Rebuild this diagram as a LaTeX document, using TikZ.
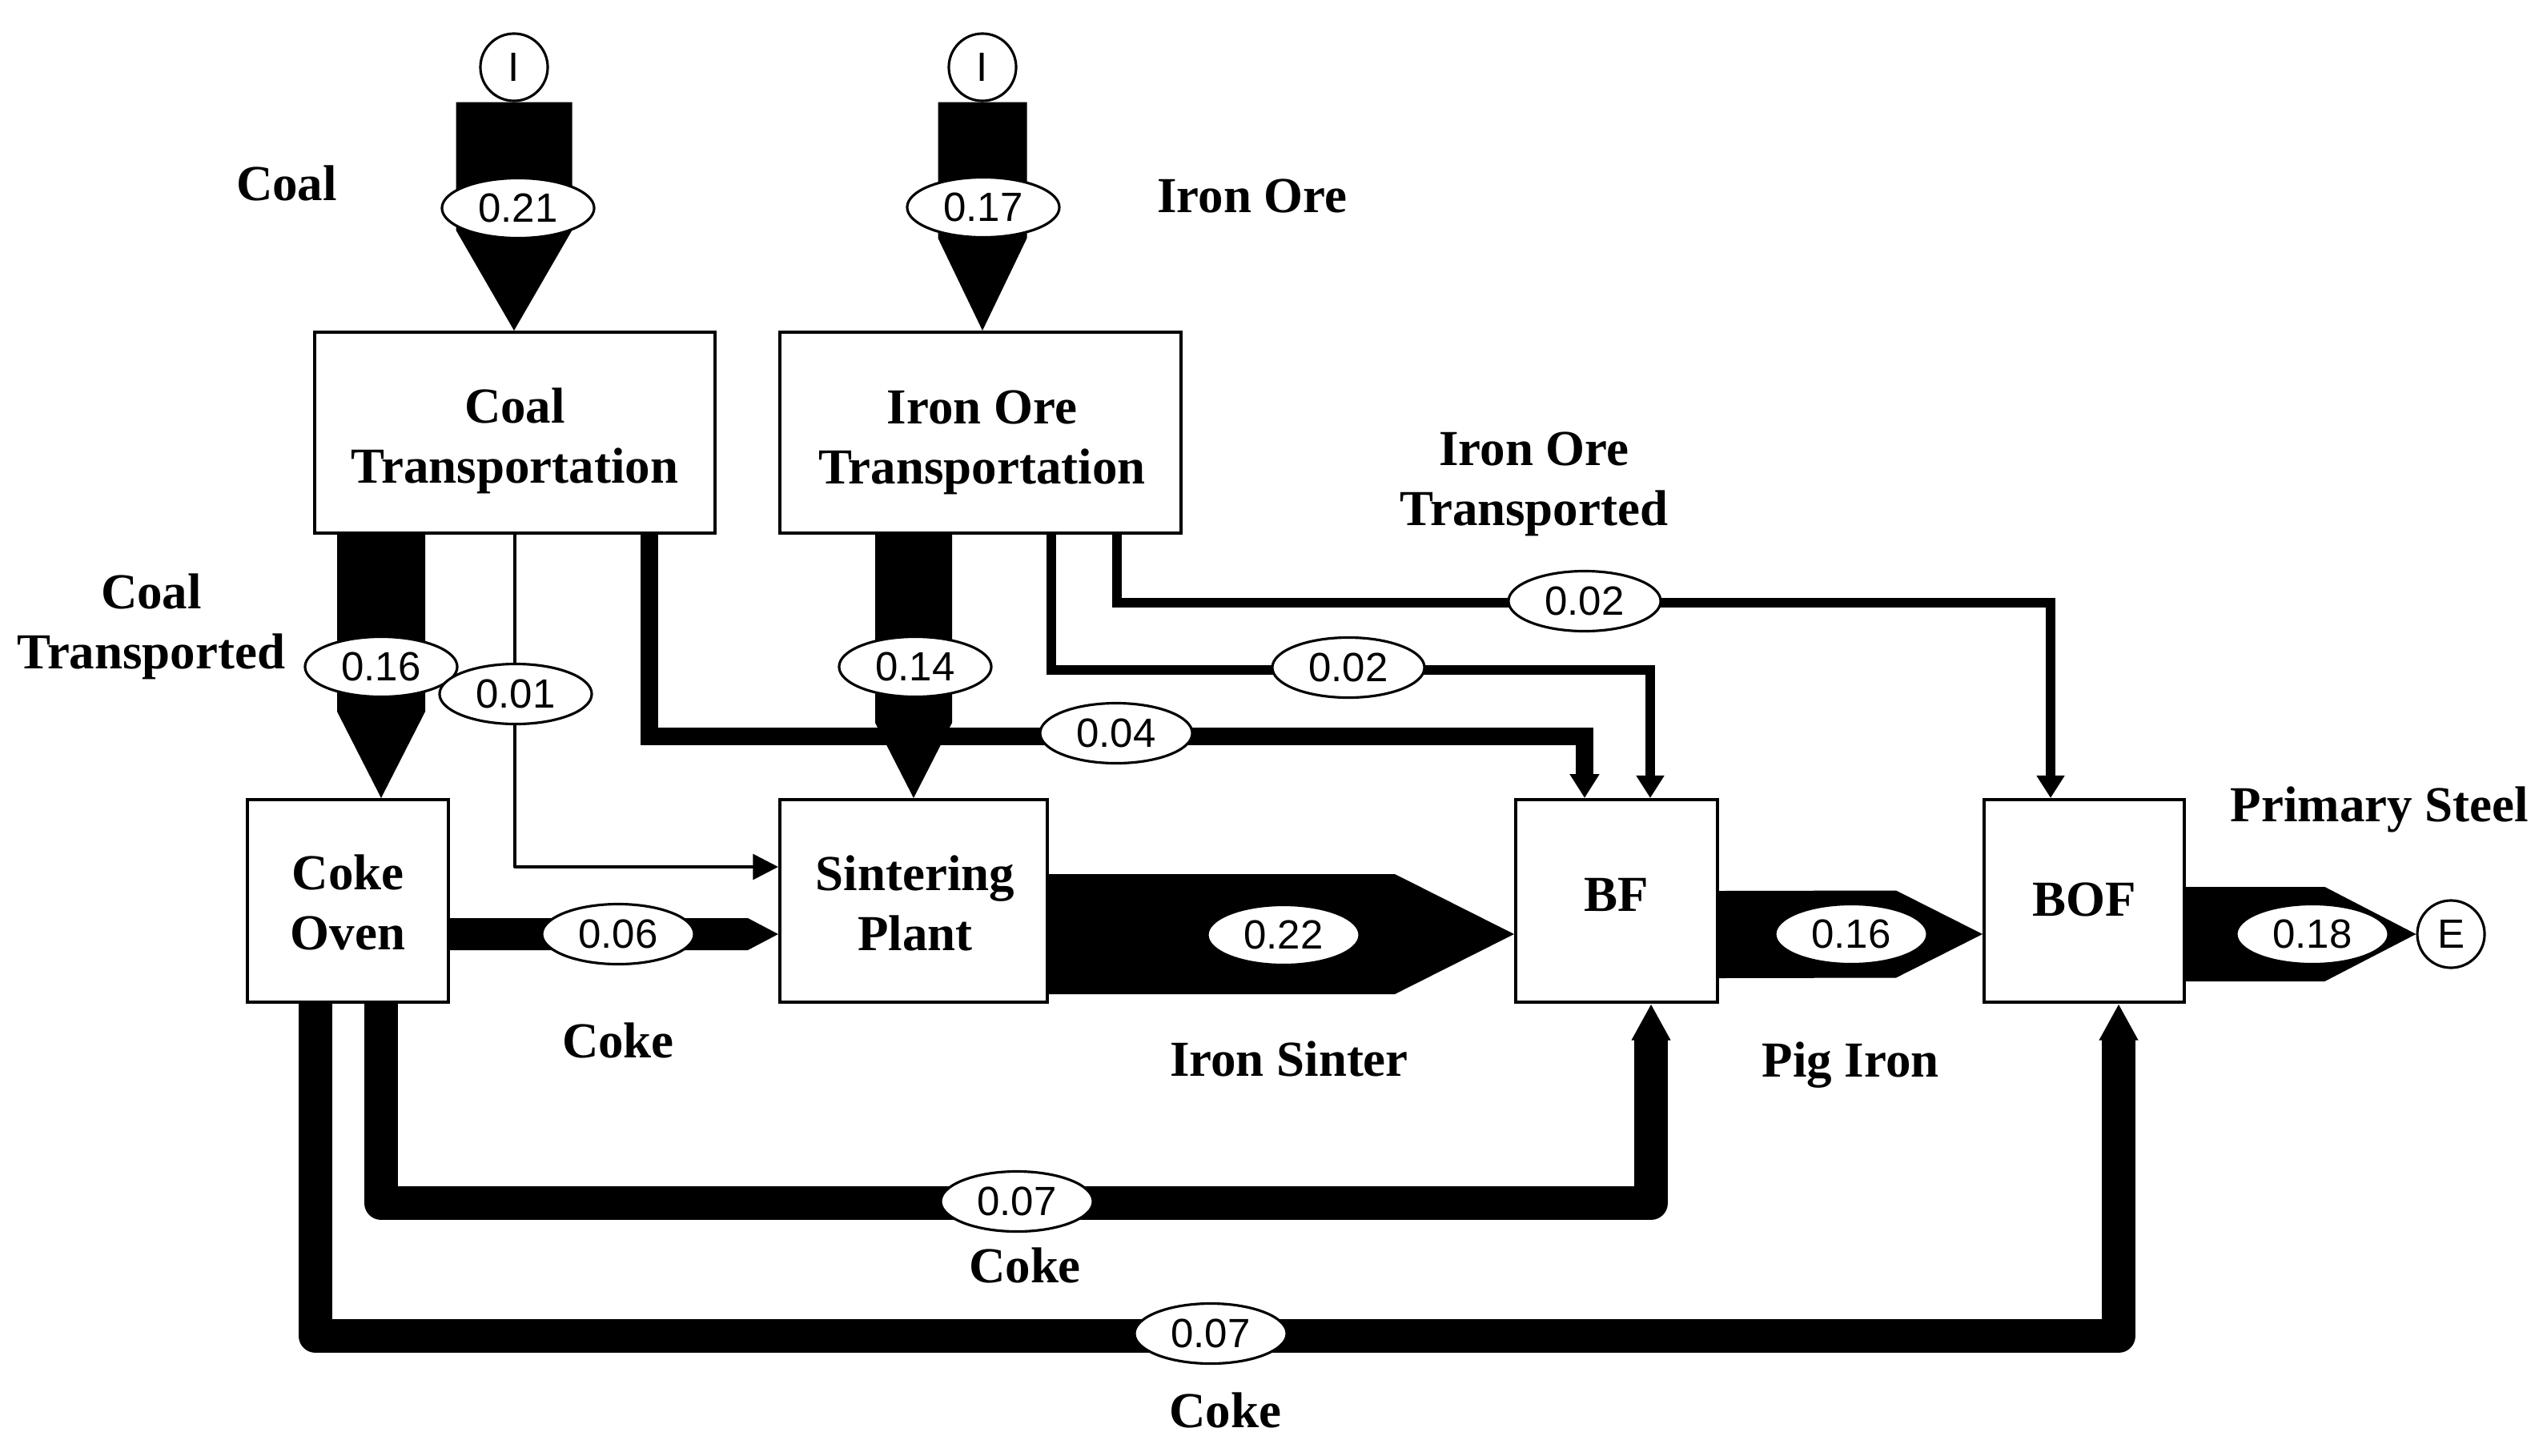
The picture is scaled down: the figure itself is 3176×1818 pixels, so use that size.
\documentclass[tikz,border=0pt]{standalone}
\usepackage{fontspec}
\setmainfont{Liberation Serif}
\setsansfont{Liberation Sans}
\usetikzlibrary{arrows.meta,shapes.geometric,calc}
\newcommand\dlabfont{\bfseries\fontsize{17.9}{21.3}\selectfont}
\newcommand\dnumfont{\sffamily\fontsize{14.5}{17}\selectfont}
\begin{document}
\begin{tikzpicture}[x=0.01cm,y=-0.01cm,
  box/.style={draw, line width=1.1pt, fill=white, inner sep=0pt},
  lab/.style={font=\dlabfont, align=center, inner sep=0pt},
  val/.style={ellipse, draw, line width=0.9pt, fill=white, minimum width=1.9cm, minimum height=0.75cm, inner sep=0pt, font=\dnumfont},
  term/.style={circle, draw, line width=0.9pt, fill=white, minimum size=0.84cm, inner sep=0pt, font=\dnumfont},
  f01/.style={line width=1.1pt, line join=round, -{Triangle[length=9pt,width=9pt]}},
  f02/.style={line width=3.4pt, -{Triangle[length=8pt,width=9.5pt]}},
  f04/.style={line width=6.5pt, -{Triangle[length=8.5pt,width=10pt]}},
  f07/.style={line width=12pt, line join=round, -{Triangle[length=13pt,width=13pt]}},
]
\useasboundingbox (0,0) rectangle (3176,1818);

% process boxes
\node[box, minimum width=5cm, minimum height=2.51cm] (coalT) at (643,540.5) {};
\node[box, minimum width=5.01cm, minimum height=2.51cm] (ironT) at (1224.5,540.5) {};
\node[box, minimum width=2.51cm, minimum height=2.53cm] (coke) at (434.5,1125.5) {};
\node[box, minimum width=3.34cm, minimum height=2.53cm] (sinter) at (1141,1125.5) {};
\node[box, minimum width=2.52cm, minimum height=2.53cm] (bf) at (2019,1125.5) {};
\node[box, minimum width=2.5cm, minimum height=2.53cm] (bof) at (2603,1125.5) {};
\node[lab] (tCoalT) at ($(coalT)+(0,10)$) {Coal\\Transportation};
\node[lab] (tIronT) at ($(ironT)+(2,12)$) {Iron Ore\\Transportation};
\node[lab] (tCoke) at ($(coke)+(0,2)$) {Coke\\Oven};
\node[lab] (tSinter) at ($(sinter)+(2,3)$) {Sintering\\Plant};
\node[lab] (tBF) at ($(bf)+(0,-8)$) {BF};
\node[lab] (tBOF) at ($(bof)+(0,-2)$) {BOF};

% terminals
\node[term] (inC) at (642,84) {I};
\node[term] (inI) at (1227,84) {I};
\node[term] (outE) at (3061,1167) {E};

% inputs
\fill ($(inC.south)+(-72.5,0)$) -- ++(145,0) -- ++(0,160) -- (inC |- coalT.north) -- ($(inC.south)+(-72.5,160)$) -- cycle;
\fill ($(inI.south)+(-55.5,0)$) -- ++(111,0) -- ++(0,170) -- (inI |- ironT.north) -- ($(inI.south)+(-55.5,170)$) -- cycle;

% coal transported to coke oven
\coordinate (ctTip) at ($(coke.north)+(41.5,0)$);
\fill ($(ctTip |- coalT.south)+(-55,0)$) -- ++(110,0) -- ($(ctTip)+(55,-108)$) -- (ctTip) -- ($(ctTip)+(-55,-108)$) -- cycle;

% iron ore transported to sintering plant
\fill ($(sinter.north |- ironT.south)+(-48,0)$) -- ++(96,0) -- ($(sinter.north)+(48,-94)$) -- (sinter.north) -- ($(sinter.north)+(-48,-94)$) -- cycle;

% 0.01 coal to sintering
\coordinate (s01) at ($(sinter.west)+(0,-42.5)$);
\draw[f01] (coalT.south) |- (s01);

% 0.04 coal to BF
\coordinate (bf04) at ($(bf.north)+(-40,0)$);
\draw[f04] ($(coalT.south)+(168,0)$) -- ++(0,252) -| (bf04);

% 0.02 iron ore to BF and BOF
\coordinate (bf02) at ($(bf.north)+(42,0)$);
\draw[f02] ($(ironT.south)+(88.5,0)$) -- ++(0,169) -| (bf02);
\coordinate (bof02) at ($(bof.north)+(-42,0)$);
\draw[f02] ($(ironT.south)+(170.5,0)$) -- ++(0,85) -| (bof02);

% 0.06 coke to sintering
\coordinate (s06) at ($(sinter.west)+(0,41.5)$);
\fill ($(coke.east)+(0,21.5)$) -- ($(s06)+(-38,-20)$) -- (s06) -- ($(s06)+(-38,20)$) -- ($(coke.east)+(0,61.5)$) -- cycle;

% 0.22 iron sinter
\coordinate (bf22) at ($(bf.west)+(0,41.5)$);
\fill ($(sinter.east)+(0,-33.5)$) -- ($(bf22)+(-149,-75)$) -- (bf22) -- ($(bf22)+(-149,75)$) -- ($(sinter.east)+(0,116.5)$) -- cycle;

% 0.16 pig iron
\coordinate (bof16) at ($(bof.west)+(0,41.5)$);
\fill ($(bf.east)+(0,-12.5)$) -- ($(bof16)+(-108,-54.5)$) -- (bof16) -- ($(bof16)+(-108,54.5)$) -- ($(bf.east)+(0,96.5)$) -- cycle;

% 0.18 primary steel
\fill ($(bof.east)+(0,-17.5)$) -- ($(outE.west)+(-114,-59)$) -- (outE.west) -- ($(outE.west)+(-114,59)$) -- ($(bof.east)+(0,100.5)$) -- cycle;

% 0.07 coke to BF and BOF
\draw[f07] ($(coke.south)+(41.5,0)$) -- ++(0,249) -| ($(bf.south)+(43,0)$);
\draw[f07] ($(coke.south)+(-40.5,0)$) -- ++(0,415) -| ($(bof.south)+(43,0)$);

% value labels
\node[val] (v021) at (647,260) {0.21};
\node[val] (v017) at (1228,259) {0.17};
\node[val] (v016a) at (476,833) {0.16};
\node[val] (v001) at (644,867) {0.01};
\node[val] (v014) at (1143,833) {0.14};
\node[val] (v004) at (1394,916) {0.04};
\node[val] (v002a) at (1684,834) {0.02};
\node[val] (v002b) at (1979,751) {0.02};
\node[val] (v006) at (772,1167) {0.06};
\node[val] (v022) at (1603,1168) {0.22};
\node[val] (v016b) at (2312,1167) {0.16};
\node[val] (v018) at (2888,1167) {0.18};
\node[val] (v007a) at (1270,1501) {0.07};
\node[val] (v007b) at (1512,1666) {0.07};

% flow names
\node[lab] (lCoal) at (358,229) {Coal};
\node[lab] (lIronOre) at (1564,245) {Iron Ore};
\node[lab] (lCoalT) at (189,783) {Coal\\Transported};
\node[lab] (lIronT) at (1916,605) {Iron Ore\\Transported};
\node[lab] (lCoke1) at (772,1300) {Coke};
\node[lab] (lSinter) at (1610,1323) {Iron Sinter};
\node[lab] (lPig) at (2311,1331) {Pig Iron};
\node[lab] (lCoke2) at (1280,1581) {Coke};
\node[lab] (lCoke3) at (1530,1762) {Coke};
\node[lab] (lSteel) at (2972,1011) {Primary Steel};
\end{tikzpicture}
\end{document}
